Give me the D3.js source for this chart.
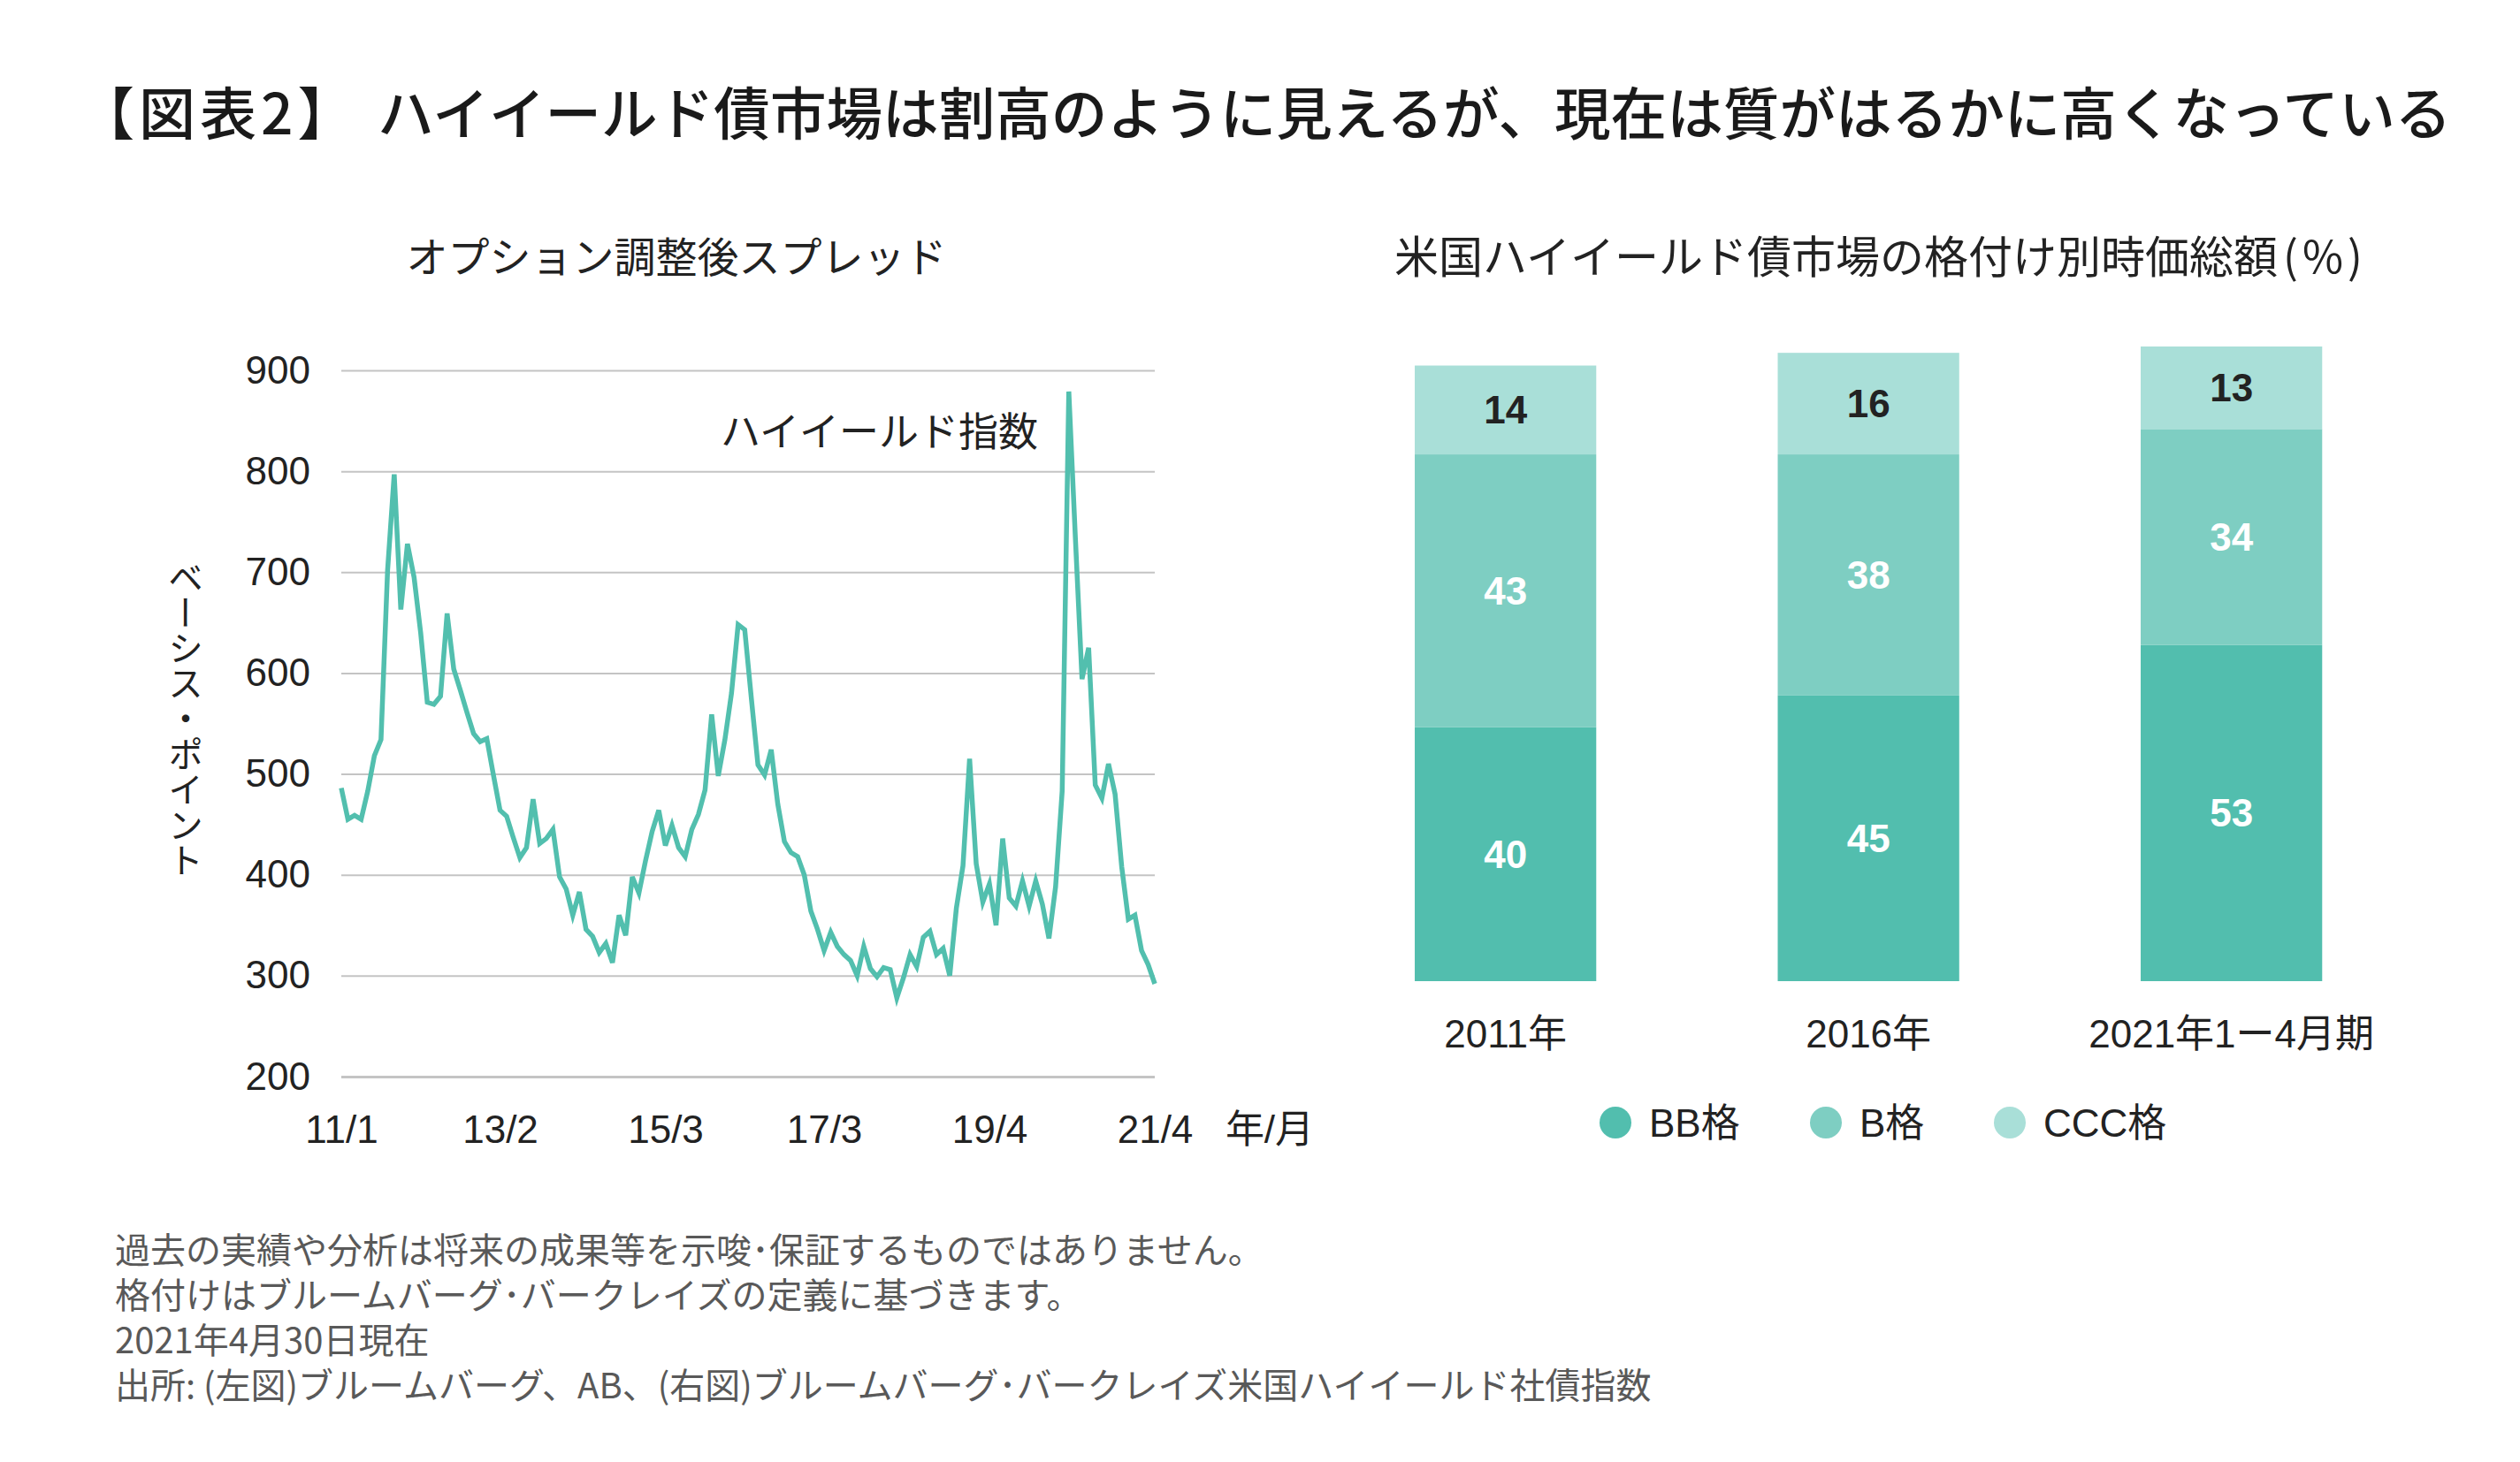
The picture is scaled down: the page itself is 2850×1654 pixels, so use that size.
<!DOCTYPE html>
<html><head><meta charset="utf-8">
<script src="https://cdn.jsdelivr.net/npm/d3@7"></script>
<style>html,body{margin:0;padding:0;background:#fff;} svg{display:block}</style>
</head><body>
<svg id="c" width="2850" height="1654"></svg>
<script>
// ---------- data ----------
const months = [
  "11/1","11/2","11/3","11/4","11/5","11/6","11/7","11/8","11/9","11/10","11/11","11/12",
  "12/1","12/2","12/3","12/4","12/5","12/6","12/7","12/8","12/9","12/10","12/11","12/12",
  "13/1","13/2","13/3","13/4","13/5","13/6","13/7","13/8","13/9","13/10","13/11","13/12",
  "14/1","14/2","14/3","14/4","14/5","14/6","14/7","14/8","14/9","14/10","14/11","14/12",
  "15/1","15/2","15/3","15/4","15/5","15/6","15/7","15/8","15/9","15/10","15/11","15/12",
  "16/1","16/2","16/3","16/4","16/5","16/6","16/7","16/8","16/9","16/10","16/11","16/12",
  "17/1","17/2","17/3","17/4","17/5","17/6","17/7","17/8","17/9","17/10","17/11","17/12",
  "18/1","18/2","18/3","18/4","18/5","18/6","18/7","18/8","18/9","18/10","18/11","18/12",
  "19/1","19/2","19/3","19/4","19/5","19/6","19/7","19/8","19/9","19/10","19/11","19/12",
  "20/1","20/2","20/3","20/4","20/5","20/6","20/7","20/8","20/9","20/10","20/11","20/12",
  "21/1","21/2","21/3","21/4"
];
const spread = [
  486,455,459,455,483,518,534,702,797,663,728,695,
  640,571,569,577,659,604,583,561,540,532,535,499,
  464,458,437,417,427,475,431,436,445,398,386,360,
  383,346,339,323,332,313,360,340,398,382,414,443,
  464,429,449,427,418,445,460,484,559,498,534,580,
  648,643,575,509,499,524,470,433,422,418,400,364,
  346,325,343,329,321,315,300,329,307,299,308,306,
  278,298,321,309,338,344,321,327,300,367,409,515,
  411,373,391,350,436,377,369,394,369,394,371,337,
  388,483,879,733,594,625,489,476,510,480,408,356,
  360,325,311,292
];
// tick label text and the category at which each label is drawn (as in the original axis)
const xTickLabels = ["11/1","13/2","15/3","17/3","19/4","21/4"];
const xTickAt     = ["11/1","13/1","15/2","17/2","19/3","21/4"];
const yTicks = [200,300,400,500,600,700,800,900];

const barCategories = ["2011年","2016年","2021年1ー4月期"];
const ratingSeries = ["BB格","B格","CCC格"];
const bbShare  = [40,45,53];
const bShare   = [43,38,34];
const cccShare = [14,16,13];

const titleHead = "【図表2】";
const titleBody = "ハイイールド債市場は割高のように見えるが、現在は質がはるかに高くなっている";
const leftSubtitle = "オプション調整後スプレッド";
const rightSubtitleMain = "米国ハイイールド債市場の格付け別時価総額";
const rightSubtitleUnit = "(%)";
const yAxisTitle = "ベーシス・ポイント";
const xAxisUnit = "年/月";
const lineLabel = "ハイイールド指数";
const footnotes = [
  "過去の実績や分析は将来の成果等を示唆･保証するものではありません。",
  "格付けはブルームバーグ･バークレイズの定義に基づきます。",
  "2021年4月30日現在",
  "出所: (左図)ブルームバーグ、AB、(右図)ブルームバーグ･バークレイズ米国ハイイールド社債指数"
];

// ---------- styles ----------
const LATIN = "'Liberation Sans','Noto Sans CJK JP',sans-serif";
const JP = "'Noto Sans CJK JP','Liberation Sans',sans-serif";
const colors = ["#52BEAE","#7ECEC2","#A9DFD8"];
const lineColor = "#52BFAE";
const textDark = "#222222";

const svg = d3.select("#c");
svg.append("rect").attr("width",2850).attr("height",1654).attr("fill","#fff");

// title
svg.append("text")
  .attr("x", 88).attr("y", 124)
  .attr("dominant-baseline","central")
  .style("font-family", JP).style("font-size","64px").style("font-weight",500)
  .style("letter-spacing","5px")
  .attr("fill","#1a1a1a")
  .text(titleHead);
svg.append("text")
  .attr("x", 427).attr("y", 124)
  .attr("dominant-baseline","central")
  .style("font-family", JP).style("font-size","63.6px").style("font-weight",500)
  .attr("fill","#1a1a1a")
  .text(titleBody);

// subtitles
svg.append("text").attr("x",765).attr("y",287).attr("text-anchor","middle")
  .attr("dominant-baseline","central")
  .style("font-family",JP).style("font-size","47px").style("font-weight",400)
  .attr("fill",textDark).text(leftSubtitle);
const rs = svg.append("text").attr("x",2127).attr("y",287).attr("text-anchor","middle")
  .attr("dominant-baseline","central")
  .style("font-family",JP).style("font-size","50px").style("font-weight",400)
  .attr("fill",textDark);
rs.append("tspan").text(rightSubtitleMain);
rs.append("tspan").attr("dx",6).style("letter-spacing","5px").text(rightSubtitleUnit);

// ---------- line chart ----------
const x = d3.scalePoint().domain(months).range([386,1306]);
const y = d3.scaleLinear().domain([200,900]).range([1218,419]);

const grid = svg.append("g").attr("transform","translate(386,0)")
  .call(d3.axisRight(y).tickValues(yTicks).tickSize(920).tickFormat(""));
grid.select(".domain").remove();
grid.selectAll(".tick line").attr("stroke","#c4c4c4").attr("stroke-width",d=>d===200?3:2);

const yAxis = svg.append("g").attr("transform","translate(386,0)")
  .call(d3.axisLeft(y).tickValues(yTicks).tickSize(0).tickPadding(35));
yAxis.select(".domain").remove();
yAxis.selectAll("text").style("font-family",LATIN).style("font-size","44px").attr("fill",textDark);

const xAxis = svg.append("g").attr("transform","translate(0,1218)")
  .call(d3.axisBottom(x).tickValues(xTickAt).tickSize(0).tickPadding(44)
    .tickFormat(d=>xTickLabels[xTickAt.indexOf(d)]));
xAxis.select(".domain").remove();
xAxis.selectAll("text").style("font-family",LATIN).style("font-size","44px").attr("fill",textDark);

svg.append("text").attr("x",1436).attr("y",1293).attr("text-anchor","middle")
  .style("font-family",LATIN).style("font-size","44px").attr("fill",textDark).text(xAxisUnit);

// vertical y-axis title (upright characters, vertical writing)
svg.append("text").attr("x",210).attr("y",813).attr("text-anchor","middle")
  .style("writing-mode","vertical-rl")
  .style("font-family",JP).style("font-size","40px").attr("fill",textDark).text(yAxisTitle);

svg.append("path").datum(spread)
  .attr("fill","none").attr("stroke",lineColor).attr("stroke-width",5.5)
  .attr("d", d3.line().x((d,i)=>x(months[i])).y(d=>y(d)));

svg.append("text").attr("x",815).attr("y",485).attr("dominant-baseline","central")
  .style("font-family",JP).style("font-size","45px").style("font-weight",400)
  .attr("fill",textDark).text(lineLabel);

// ---------- stacked bars ----------
const xb = d3.scaleBand().domain(barCategories).range([1497.4,2728.9]).paddingInner(0.5).paddingOuter(0.25);
const yb = d3.scaleLinear().domain([0,100]).range([1110,392]);
const rows = barCategories.map((c,i)=>({cat:c,"BB格":bbShare[i],"B格":bShare[i],"CCC格":cccShare[i]}));
const stacked = d3.stack().keys(ratingSeries)(rows);

const layers = svg.append("g").selectAll("g").data(stacked).join("g")
  .attr("fill",(d,i)=>colors[i]);
layers.selectAll("rect").data(d=>d).join("rect")
  .attr("x",d=>xb(d.data.cat)).attr("width",xb.bandwidth())
  .attr("y",d=>yb(d[1])).attr("height",d=>yb(d[0])-yb(d[1]));

stacked.forEach((s,si)=>{
  svg.append("g").selectAll("text").data(s).join("text")
    .attr("x",d=>xb(d.data.cat)+xb.bandwidth()/2)
    .attr("y",d=>(yb(d[0])+yb(d[1]))/2)
    .attr("text-anchor","middle").attr("dominant-baseline","central")
    .style("font-family",LATIN).style("font-size","44px").style("font-weight","bold")
    .attr("fill", si===2 ? textDark : "#ffffff")
    .text(d=>d[1]-d[0]);
});

svg.append("g").selectAll("text").data(barCategories).join("text")
  .attr("x",d=>xb(d)+xb.bandwidth()/2).attr("y",1169)
  .attr("text-anchor","middle").attr("dominant-baseline","central")
  .style("font-family",LATIN).style("font-size","44px").attr("fill",textDark)
  .text(d=>d);

// legend
const legendX = [1827,2065,2273];
const lg = svg.append("g").selectAll("g").data(ratingSeries).join("g")
  .attr("transform",(d,i)=>`translate(${legendX[i]},1270)`);
lg.append("circle").attr("r",18).attr("fill",(d,i)=>colors[i]);
lg.append("text").attr("x",38).attr("dominant-baseline","central")
  .style("font-family",LATIN).style("font-size","44px").attr("fill",textDark).text(d=>d);

// footnotes
svg.append("g").selectAll("text").data(footnotes).join("text")
  .attr("x",130).attr("y",(d,i)=>1412+i*51).attr("dominant-baseline","central")
  .style("font-family",JP).style("font-size","40px").attr("fill","#595959")
  .text(d=>d);
</script>
</body></html>
